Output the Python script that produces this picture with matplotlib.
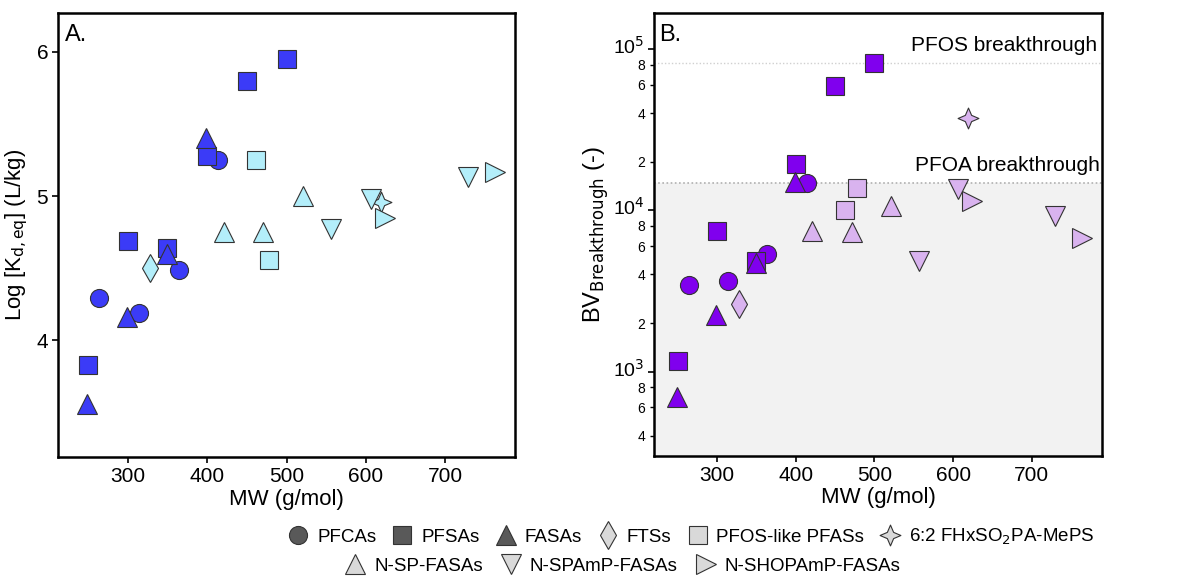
import numpy as np
import matplotlib
matplotlib.use("Agg")
import matplotlib.pyplot as plt
from matplotlib.path import Path
from matplotlib.lines import Line2D
from matplotlib.ticker import FixedLocator, FixedFormatter
from matplotlib.transforms import ScaledTranslation

# ---- data ----
pfca_mw = [264, 314, 364, 414]
pfca_logk = [4.29, 4.19, 4.49, 5.25]
pfca_bv = [3420, 3670, 5330, 14700]

pfsa_mw = [250, 300, 350, 400, 450, 500]
pfsa_logk = [3.83, 4.69, 4.64, 5.28, 5.80, 5.95]
pfsa_bv = [1170, 7420, 4820, 19300, 59000, 81900]

fasa_mw = [249, 299, 349, 399]
fasa_logk = [3.56, 4.16, 4.60, 5.40]
fasa_bv = [700, 2230, 4700, 14900]

fts_mw = [328]
fts_logk = [4.50]
fts_bv = [2610]

pfoslike_mw = [462, 478]
pfoslike_logk = [5.25, 4.56]
pfoslike_bv = [10100, 13700]

fhx_mw = [619]
fhx_logk = [4.96]
fhx_bv = [37300]

nsp_mw = [421, 471, 521]
nsp_logk = [4.75, 4.75, 5.00]
nsp_bv = [7420, 7290, 10600]

nspamp_mw = [556, 606, 729]
nspamp_logk = [4.77, 4.98, 5.13]
nspamp_bv = [4820, 13500, 9190]

nshopamp_mw = [624, 763]
nshopamp_logk = [4.85, 5.17]
nshopamp_bv = [11400, 6700]

pfos_breakthrough = 81800
pfoa_breakthrough = 14700

# ---- style ----
star4 = Path([(0, 1), (0.3, 0.3), (1, 0), (0.3, -0.3), (0, -1),
              (-0.3, -0.3), (-1, 0), (-0.3, 0.3), (0, 1)],
             [Path.MOVETO] + [Path.LINETO] * 7 + [Path.CLOSEPOLY])

groups = [
    # name, mw, logk, bv, marker, size, dark?
    ("PFCAs", pfca_mw, pfca_logk, pfca_bv, "o", 13, True),
    ("PFSAs", pfsa_mw, pfsa_logk, pfsa_bv, "s", 13, True),
    ("FASAs", fasa_mw, fasa_logk, fasa_bv, "^", 14, True),
    ("FTSs", fts_mw, fts_logk, fts_bv, "d", 14, False),
    ("PFOS-like PFASs", pfoslike_mw, pfoslike_logk, pfoslike_bv, "s", 13, False),
    ("6:2 FHxSO$_2$PA-MePS", fhx_mw, fhx_logk, fhx_bv, star4, 15, False),
    ("N-SP-FASAs", nsp_mw, nsp_logk, nsp_bv, "^", 14, False),
    ("N-SPAmP-FASAs", nspamp_mw, nspamp_logk, nspamp_bv, "v", 14, False),
    ("N-SHOPAmP-FASAs", nshopamp_mw, nshopamp_logk, nshopamp_bv, ">", 14, False),
]

blue_dark, blue_light = "#3b3bf7", "#b3eefa"
purp_dark, purp_light = "#8000ee", "#d9b3ef"

plt.rcParams['font.family'] = ['Liberation Sans', 'DejaVu Sans']

fig = plt.figure(figsize=(11.85, 5.8), dpi=100)
axA = fig.add_axes([58 / 1185, 1 - 457 / 580, 457 / 1185, 444 / 580])
axB = fig.add_axes([654 / 1185, 1 - 456 / 580, 448 / 1185, 443 / 580])

for name, mw, lk, bv, mk, ms, dark in groups:
    axA.plot(mw, lk, ls="none", marker=mk, ms=ms, mfc=blue_dark if dark else blue_light,
             mec="#333333", mew=0.8)
    axB.plot(mw, bv, ls="none", marker=mk, ms=ms, mfc=purp_dark if dark else purp_light,
             mec="#333333", mew=0.8)

for ax in (axA, axB):
    for s in ax.spines.values():
        s.set_linewidth(1.8)
    ax.set_xticks([300, 400, 500, 600, 700])
    ax.tick_params(axis="both", labelsize=15, width=1.2, length=4, pad=3)
    ax.set_xlabel("MW (g/mol)", fontsize=16, labelpad=2)

# panel A
axA.set_xlim(212, 788)
axA.set_ylim(3.19, 6.27)
axA.set_yticks([4, 5, 6])
axA.set_ylabel("Log [K$_{\\mathrm{d,eq}}$] (L/kg)", fontsize=16, labelpad=5)
axA.text(0.015, 0.975, "A.", transform=axA.transAxes, fontsize=17, va="top", ha="left")

# panel B
axB.set_yscale("log")
axB.set_xlim(220, 789)
axB.set_ylim(300, 1.67e5)
axB.axhspan(1, pfoa_breakthrough, color="#f2f2f2", zorder=0)
axB.axhline(pfoa_breakthrough, color="#b0b0b0", ls=(0, (1, 1.5)), lw=1.2, zorder=0.5)
axB.axhline(pfos_breakthrough, color="#d0d0d0", ls=(0, (1, 1.5)), lw=1.0, zorder=0.5)
axB.text(0.99, 0.905, "PFOS breakthrough", transform=axB.transAxes, fontsize=15,
         ha="right", va="bottom")
axB.text(0.995, 0.635, "PFOA breakthrough", transform=axB.transAxes, fontsize=15,
         ha="right", va="bottom")
axB.yaxis.set_major_locator(FixedLocator([1e3, 1e4, 1e5]))
axB.yaxis.set_major_formatter(FixedFormatter(["10$^3$", "10$^4$", "10$^5$"]))
axB.tick_params(axis="y", which="major", labelsize=14)
minor = [400, 600, 800, 2000, 4000, 6000, 8000, 20000, 40000, 60000, 80000]
axB.yaxis.set_minor_locator(FixedLocator(minor))
axB.yaxis.set_minor_formatter(FixedFormatter([str(v)[0] for v in minor]))
axB.tick_params(axis="y", which="minor", labelsize=10, width=1.0, length=3)
axB.set_ylabel("BV$_{\\mathrm{Breakthrough}}$ (-)", fontsize=17, labelpad=1)
axB.text(0.012, 0.975, "B.", transform=axB.transAxes, fontsize=17, va="top", ha="left")

# nudge the 10^n labels up a little so they clear the "8" labels
fig.canvas.draw()
for lbl in axB.yaxis.get_majorticklabels():
    lbl.set_transform(lbl.get_transform() + ScaledTranslation(0, 4 / 100, fig.dpi_scale_trans))

# legend
def handle(mk, ms, dark):
    return Line2D([], [], ls="none", marker=mk, ms=ms,
                  mfc="#595959" if dark else "#d9d9d9", mec="#333333", mew=0.8)

h1 = [handle(g[4], g[5], g[6]) for g in groups[:6]]
l1 = [g[0] for g in groups[:6]]
h2 = [handle(g[4], g[5], g[6]) for g in groups[6:]]
l2 = [g[0] for g in groups[6:]]
fig.legend(h1, l1, loc="center", bbox_to_anchor=(0.583, 1 - 537 / 580), ncol=6,
           frameon=False, fontsize=13.5, handletextpad=0.4, columnspacing=0.8,
           handlelength=1.2, borderpad=0, borderaxespad=0)
fig.legend(h2, l2, loc="center", bbox_to_anchor=(0.525, 1 - 566 / 580), ncol=3,
           frameon=False, fontsize=13.5, handletextpad=0.4, columnspacing=0.9,
           handlelength=1.2, borderpad=0, borderaxespad=0)

fig.savefig("out.png", dpi=100)
